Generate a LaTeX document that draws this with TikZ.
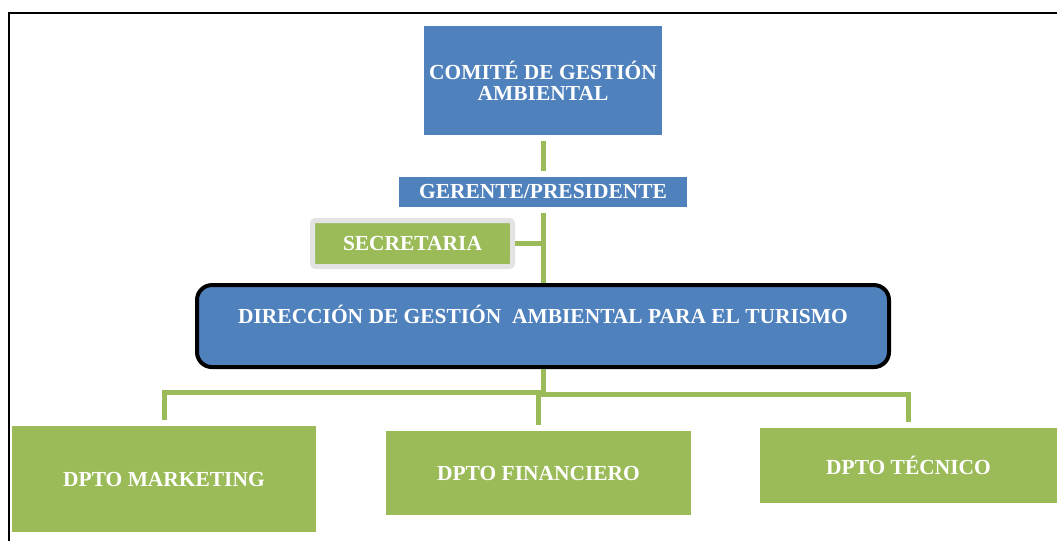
\documentclass[tikz,border=0pt]{standalone}
\usepackage{fontspec}
\setmainfont{Liberation Serif}
\usetikzlibrary{positioning}
\definecolor{orgblue}{HTML}{4F81BD}
\definecolor{orggreen}{HTML}{9BBB59}
\definecolor{orggray}{HTML}{E3E3E3}
\pgfmathsetmacro{\linkgap}{0.12}
\tikzset{
  boxtext/.style={font=\fontsize{12.2}{12}\selectfont\bfseries, text=white, align=center, inner sep=0pt},
  bluebox/.style={boxtext, fill=orgblue},
  greenbox/.style={boxtext, fill=orggreen},
  link/.style={draw=orggreen, line width=0.1cm},
}

\begin{document}
\begin{tikzpicture}
    \useasboundingbox (0,0) rectangle (21.14,-10.82);
    % frame
    \draw[line width=0.05cm] (0.18,-10.82) -- (0.18,-0.26) -- (21.14,-0.26);
    % define boxes
    % top of the chart
    \node[bluebox, minimum width=4.76cm, minimum height=2.18cm] (comite) at (10.86,-1.61)
        {COMITÉ DE GESTIÓN\\AMBIENTAL};
    \node[bluebox, minimum width=5.76cm, minimum height=0.60cm, below=0.82cm of comite] (gerente)
        {GERENTE/PRESIDENTE};
    \node[greenbox, draw=orggray, line width=0.1cm, rounded corners=0.06cm,
          minimum width=4.0cm, minimum height=0.92cm] (secretaria) at (8.25,-4.87) {SECRETARIA};
    % direction
    \node[bluebox, draw=black, line width=0.08cm, rounded corners=0.3cm,
          minimum width=13.84cm, minimum height=1.64cm, below=1.52cm of gerente] (direccion) {};
    \node[boxtext] (direccion_text) at ([yshift=-0.62cm]direccion.north)
        {DIRECCIÓN DE GESTIÓN~ AMBIENTAL PARA EL TURISMO};
    % departments
    \node[greenbox, minimum width=6.08cm, minimum height=2.12cm] (marketing) at (3.28,-9.58) {DPTO MARKETING};
    \node[greenbox, minimum width=6.10cm, minimum height=1.68cm] (financiero) at (10.77,-9.46) {DPTO FINANCIERO};
    \node[greenbox, minimum width=5.94cm, minimum height=1.50cm] (tecnico) at (18.17,-9.31) {DPTO TÉCNICO};
    \coordinate[below=0.46cm of direccion] (bus);
    % draw connectors
    \draw[link, shorten <=\linkgap cm, shorten >=0.1cm] (comite) -- (gerente);
    \draw[link, shorten <=\linkgap cm] (gerente) -- (direccion);
    \draw[link] (secretaria.east) -- (secretaria.east -| gerente.south);
    \draw[link, shorten >=\linkgap cm] (direccion.south) -- (bus) -| (marketing);
    \draw[link, shorten >=\linkgap cm] ([yshift=-0.05cm]bus) -| (financiero);
    \draw[link, shorten >=\linkgap cm] ([yshift=-0.05cm]bus) -| (tecnico);
\end{tikzpicture}
\end{document}
